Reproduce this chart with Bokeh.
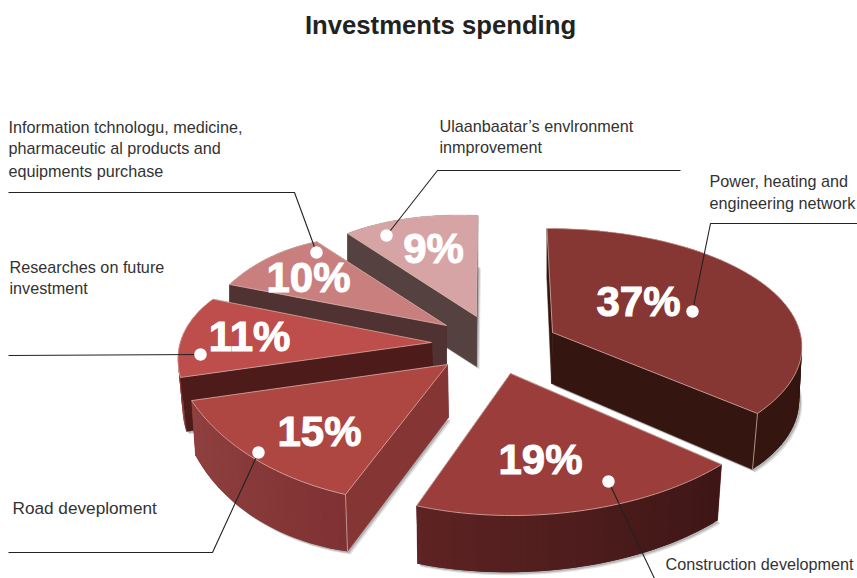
import numpy as np
from bokeh.plotting import figure
from bokeh.models import Range1d
from bokeh.core.properties import value as bv
from bokeh.embed import file_html
from bokeh.resources import INLINE

# ---- data -------------------------------------------------------------
categories = ["Power, heating and engineering network", "Construction development",
              "Road deveploment", "Researches on future investment",
              "Information tchnologu, medicine, pharmaceutic al products and equipments purchase",
              "Ulaanbaatar\u2019s envlronment inmprovement"]
shares = [37, 19, 15, 11, 10, 9]
share_labels = ["37%", "19%", "15%", "11%", "10%", "9%"]

# ---- projection of each exploded slice (page pixels) --------------------
# Each slice lies on its own tilted disc. A disc is calibrated by where its
# centre and three rim angles fall on the page; the sweep drawn comes from shares.
cal_sweep = [132, 68, 53.5, 39, 36, 32]
top_frame = [
    [(552, 332), (757, 413), (765, 285), (546, 228)],
    [(510, 373), (721, 464), (575, 511), (415, 505)],
    [(447, 364), (345, 494), (257, 460), (191, 400)],
    [(431, 342), (180, 377), (183, 333), (212, 299)],
    [(446, 325), (229, 284), (273, 255), (317, 241)],
    [(476, 316), (347, 233), (407, 218), (477, 215)],
]
bottom_frame = [
    [(551, 383), (752, 469), (762, 337), (546, 279)],
    [(510, 431), (717, 520), (575, 567), (416, 563)],
    [(448, 417), (347, 551), (262, 522), (195, 455)],
    [(433, 392), (186, 431), (186, 385), (212, 349)],
    [(446, 375), (229, 334), (273, 305), (317, 291)],
    [(476, 366), (347, 283), (407, 268), (477, 265)],
]
top_color = ["#863633", "#9a3d3b", "#ae4642", "#bd4e4b", "#c97f7d", "#d6a4a4"]
radial_color = ["#35150f", "#4a1b1a", "#843534", "#4c1b1a", "#503232", "#554140"]
arc_from = ["#35150f", "#3e1616", "#7f3133", "#8c3836", "#503232", "#554140"]
arc_to = ["#35150f", "#5e2323", "#8f403f", "#8c3836", "#503232", "#554140"]
corner_edge = [True, False, True, False, False, False]
front_cut = [True, False, True, True, True, True]
label_xy = [(638, 301), (540, 459), (319, 431), (249, 336), (308, 277), (433, 248)]

leaders = [
    [(692, 311), (710, 223), (857, 223)],
    [(608, 481), (654, 578)],
    [(258, 452), (212, 552), (8, 552)],
    [(200, 354), (8, 355)],
    [(316, 252), (294, 192), (8, 192)],
    [(386, 235), (437, 170), (680, 170)],
]
caption_lines = [
    ("Power, heating and", 709, 180), ("engineering network", 709, 202),
    ("Construction development", 665, 563),
    ("Researches on future", 9, 266), ("investment", 9, 287),
    ("Information tchnologu, medicine,", 8, 126), ("pharmaceutic al products and", 8, 147),
    ("equipments purchase", 8, 170),
    ("Ulaanbaatar\u2019s envlronment", 439, 125), ("inmprovement", 439, 146),
]
road_caption = ("Road deveploment", 12, 507)


def fit(frame, sweep):
    ang = np.radians([0, sweep / 2, sweep])
    src = [(0.0, 0.0)] + [(np.cos(a), np.sin(a)) for a in ang]
    A, b = [], []
    for (u, v), (x, y) in zip(src, frame):
        A.append([u, v, 1, 0, 0, 0, -u * x, -v * x]); b.append(x)
        A.append([0, 0, 0, u, v, 1, -u * y, -v * y]); b.append(y)
    return np.append(np.linalg.solve(np.array(A, float), np.array(b, float)), 1).reshape(3, 3)


def project(H, theta):
    pts = np.stack([np.cos(theta), np.sin(theta), np.ones_like(theta)])
    q = H @ pts
    return q[0] / q[2], q[1] / q[2]


def mix(c1, c2, t):
    a = [int(c1[i:i + 2], 16) for i in (1, 3, 5)]
    b = [int(c2[i:i + 2], 16) for i in (1, 3, 5)]
    return "#%02x%02x%02x" % tuple(round(p + (q - p) * t) for p, q in zip(a, b))


W, H_PX = 857, 578
p = figure(width=W, height=H_PX, output_backend="svg", toolbar_location=None,
           x_range=Range1d(0, W), y_range=Range1d(H_PX, 0),
           min_border=0, background_fill_color="white", border_fill_color="white",
           outline_line_color=None)
p.axis.visible = False
p.grid.visible = False

total = sum(shares)
for i in range(5, -1, -1):
    sweep = np.radians(shares[i] / total * 360)
    th = np.linspace(0, sweep, 61)
    Ht = fit(top_frame[i], cal_sweep[i])
    Hb = fit(bottom_frame[i], cal_sweep[i])
    tx, ty = project(Ht, th)
    bx, by = project(Hb, th)
    ax, ay = top_frame[i][0]
    cx, cy = bottom_frame[i][0]

    # soft shadow under the block
    for off, alpha in ((3.0, 0.18), (1.8, 0.3)):
        p.patch(np.r_[cx, bx] + off, np.r_[cy, by] + off, fill_color="#555555",
                fill_alpha=alpha, line_color=None)

    def cut_wall(k):
        p.patch([ax, tx[k], bx[k], cx], [ay, ty[k], by[k], cy],
                fill_color=radial_color[i], line_color=radial_color[i], line_width=0.5)

    # hidden walls first
    cut_wall(-1)
    if not front_cut[i]:
        cut_wall(0)

    # rim wall as overlapping strips so that its shading can change along the arc
    xs, ys, cols = [], [], []
    for k in range(len(th) - 1):
        e = min(k + 2, len(th) - 1)
        xs.append([tx[k], tx[e], bx[e], bx[k]])
        ys.append([ty[k], ty[e], by[e], by[k]])
        cols.append(mix(arc_from[i], arc_to[i], k / (len(th) - 2)))
    p.patches(xs, ys, fill_color=cols, line_color=None)

    if front_cut[i]:
        cut_wall(0)
    if corner_edge[i]:
        p.line([tx[0], bx[0]], [ty[0], by[0]], line_color="#c9a8a0", line_width=0.8)

    # top face
    p.patch(np.r_[ax, tx], np.r_[ay, ty], fill_color=top_color[i],
            line_color="#e3c2ba", line_width=0.8, line_alpha=0.85)

for path in leaders:
    p.line([q[0] for q in path], [q[1] for q in path], line_color="#222222", line_width=1.1)
p.scatter([q[0][0] for q in leaders], [q[0][1] for q in leaders], marker="circle", size=12.5,
          fill_color="white", line_color=None)

p.text([q[0] for q in label_xy], [q[1] for q in label_xy], text=share_labels,
       text_font=bv("Liberation Sans"), text_font_style="bold", text_font_size="42px",
       text_color="white", text_outline_color="white", text_align="center", text_baseline="middle")
p.text([c[1] for c in caption_lines], [c[2] for c in caption_lines], text=[c[0] for c in caption_lines],
       text_font=bv("Liberation Sans"), text_font_size="16.2px", text_color="#333333",
       text_align="left", text_baseline="middle")
p.text([road_caption[1]], [road_caption[2]], text=[road_caption[0]],
       text_font=bv("Liberation Sans"), text_font_size="17.2px", text_color="#333333",
       text_align="left", text_baseline="middle")
p.text([440], [24], text=["Investments spending"], text_font=bv("Liberation Sans"),
       text_font_style="bold", text_font_size="25.7px", text_color="#222222",
       text_align="center", text_baseline="middle")

open("out.html", "w").write(file_html(p, INLINE))
